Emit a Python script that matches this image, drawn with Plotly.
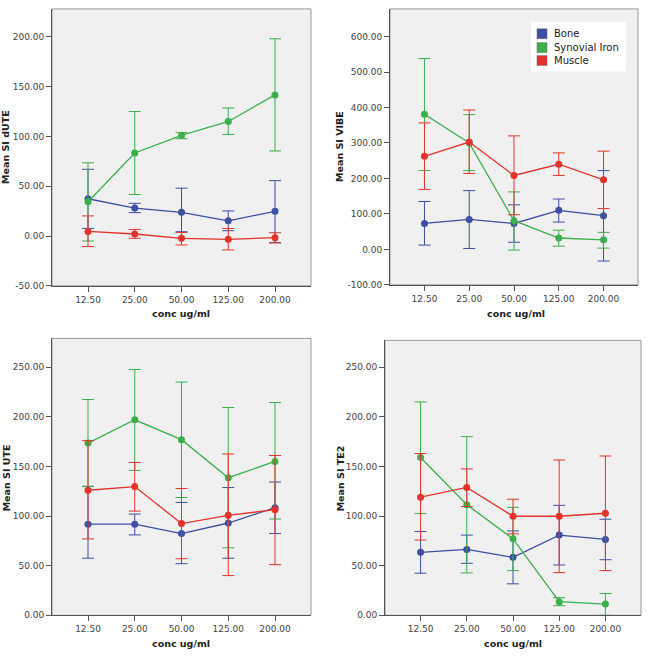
import plotly.graph_objects as go

conc = ["12.50", "25.00", "50.00", "125.00", "200.00"]
series_names = ["Bone", "Synovial Iron", "Muscle"]
colors = {"Bone": "#3b4fa3", "Synovial Iron": "#3bb04a", "Muscle": "#e3332c"}

# Panel 1: Mean SI dUTE
dute_mean = {"Bone": [37.4, 28, 23.8, 15.2, 24.8],
             "Synovial Iron": [34.4, 83.4, 101, 115, 141.7],
             "Muscle": [4.6, 2, -2.3, -3.3, -1.7]}
dute_hi = {"Bone": [67, 32.8, 48, 25.2, 55.6],
           "Synovial Iron": [73.5, 125, 104, 128.5, 198],
           "Muscle": [20.2, 6.6, 3.6, 7.6, 3.3]}
dute_lo = {"Bone": [7.6, 23.5, 4.3, 5.3, -6.6],
           "Synovial Iron": [-5, 41.7, 97.7, 102, 85.4],
           "Muscle": [-10.6, -2.3, -9, -14, -7]}

# Panel 2: Mean SI VIBE
vibe_mean = {"Bone": [73, 84.5, 73, 110, 95],
             "Synovial Iron": [381, 300, 81, 32, 27],
             "Muscle": [262.5, 302.6, 208.5, 240, 196]}
vibe_hi = {"Bone": [135, 165.6, 125.5, 142, 222],
           "Synovial Iron": [538, 380, 162, 54, 48],
           "Muscle": [356.7, 393, 320, 272, 277]}
vibe_lo = {"Bone": [12, 2.5, 20, 77, -33],
           "Synovial Iron": [222.5, 222, -2, 9, 3.5],
           "Muscle": [169, 214, 97.6, 208.5, 115]}

# Panel 3: Mean SI UTE
ute_mean = {"Bone": [91.8, 91.8, 82.4, 93, 108.4],
            "Synovial Iron": [173.5, 197, 177, 138.6, 155],
            "Muscle": [126, 129.7, 92.4, 100.7, 106.4]}
ute_hi = {"Bone": [130, 102, 113.7, 128.7, 134.3],
          "Synovial Iron": [217.4, 247.7, 235, 209.4, 214.4],
          "Muscle": [176, 154, 127.7, 162.6, 161]}
ute_lo = {"Bone": [57.5, 81, 52, 57.5, 82.4],
          "Synovial Iron": [129.7, 146, 118.7, 68, 97],
          "Muscle": [77, 105, 57, 40, 51]}

# Panel 4: Mean SI TE2
te2_mean = {"Bone": [63.4, 66.4, 58.4, 80.8, 76.4],
            "Synovial Iron": [159, 111.5, 77, 13.7, 11.3],
            "Muscle": [119, 128.8, 99.8, 99.8, 102.8]}
te2_hi = {"Bone": [84.4, 80.8, 85, 110.8, 96.8],
          "Synovial Iron": [215, 180, 108.8, 17.7, 22],
          "Muscle": [163, 147.5, 117, 156.5, 160.5]}
te2_lo = {"Bone": [42.4, 52.4, 31.7, 50.7, 56],
          "Synovial Iron": [102.5, 42.7, 45, 9.7, 0],
          "Muscle": [75.8, 109.5, 82, 43, 45]}

panels = [
    dict(mean=dute_mean, hi=dute_hi, lo=dute_lo, title="Mean SI dUTE",
         yrange=[-50, 228], ticks=[-50, 0, 50, 100, 150, 200],
         xdom=[52, 311], ydom=[9, 288], ytitle=(6, 148), xtitle=(181, 316)),
    dict(mean=vibe_mean, hi=vibe_hi, lo=vibe_lo, title="Mean SI VIBE",
         yrange=[-100, 678], ticks=[-100, 0, 100, 200, 300, 400, 500, 600],
         xdom=[390, 638], ydom=[9, 287], ytitle=(340, 148), xtitle=(516, 316)),
    dict(mean=ute_mean, hi=ute_hi, lo=ute_lo, title="Mean SI UTE",
         yrange=[0, 279], ticks=[0, 50, 100, 150, 200, 250],
         xdom=[52, 311], ydom=[341, 620], ytitle=(6, 482), xtitle=(181, 648)),
    dict(mean=te2_mean, hi=te2_hi, lo=te2_lo, title="Mean SI TE2",
         yrange=[0, 277], ticks=[0, 50, 100, 150, 200, 250],
         xdom=[385, 641], ydom=[343, 620], ytitle=(340, 482), xtitle=(513, 648)),
]

W, H = 652, 658
FONT = "DejaVu Sans"
fig = go.Figure()
annotations = []
shapes = []

for i, p in enumerate(panels):
    n = i + 1
    xa = "x" if n == 1 else f"x{n}"
    ya = "y" if n == 1 else f"y{n}"
    for s in series_names:
        m = p["mean"][s]
        plus = [h - v for h, v in zip(p["hi"][s], m)]
        minus = [v - l for v, l in zip(m, p["lo"][s])]
        fig.add_trace(go.Scatter(
            x=conc, y=m, xaxis=xa, yaxis=ya, mode="lines+markers",
            line=dict(color=colors[s], width=1.3),
            marker=dict(color=colors[s], size=7),
            error_y=dict(type="data", array=plus, arrayminus=minus,
                         color=colors[s], thickness=1, width=6),
            showlegend=False, name=s))
    xk = "xaxis" if n == 1 else f"xaxis{n}"
    yk = "yaxis" if n == 1 else f"yaxis{n}"
    fig.layout[xk] = dict(
        domain=[p["xdom"][0] / W, p["xdom"][1] / W], anchor=ya, type="category",
        categoryorder="array", categoryarray=conc, range=[-0.77, 4.77],
        showline=True, linecolor="#555", linewidth=1, ticks="outside",
        ticklen=5, tickcolor="#555", showgrid=False, zeroline=False,
        tickfont=dict(family=FONT, size=9, color="#444"))
    fig.layout[yk] = dict(
        domain=[1 - p["ydom"][1] / H, 1 - p["ydom"][0] / H], anchor=xa,
        range=p["yrange"], tickvals=p["ticks"],
        ticktext=[f"{t:.2f}" for t in p["ticks"]],
        showline=True, linecolor="#555", linewidth=1, ticks="outside",
        ticklen=5, tickcolor="#555", showgrid=False, zeroline=False,
        tickfont=dict(family=FONT, size=9, color="#444"))
    shapes.append(dict(type="rect", xref="paper", yref="paper",
                       x0=p["xdom"][0] / W, x1=p["xdom"][1] / W,
                       y0=1 - p["ydom"][1] / H, y1=1 - p["ydom"][0] / H,
                       fillcolor="#f0f0f0", line=dict(color="#999", width=1),
                       layer="below"))
    annotations.append(dict(text=f"<b>{p['title']}</b>", xref="paper", yref="paper",
                            x=p["ytitle"][0] / W, y=1 - p["ytitle"][1] / H,
                            xanchor="center", yanchor="middle",
                            textangle=-90, showarrow=False,
                            font=dict(family=FONT, size=9.5, color="#222")))
    annotations.append(dict(text="<b>conc ug/ml</b>", xref="paper", yref="paper",
                            x=p["xtitle"][0] / W, y=1 - p["xtitle"][1] / H,
                            xanchor="center", yanchor="middle",
                            showarrow=False,
                            font=dict(family=FONT, size=9.5, color="#222")))

# manual legend box inside the VIBE panel
LX0, LX1, LY0, LY1 = 531, 626, 22, 72
shapes.append(dict(type="rect", xref="paper", yref="paper",
                   x0=LX0 / W, x1=LX1 / W, y0=1 - LY1 / H, y1=1 - LY0 / H,
                   fillcolor="white", line=dict(width=0), layer="above"))
row_y = [34, 48, 61]
for s, ry in zip(series_names, row_y):
    shapes.append(dict(type="rect", xref="paper", yref="paper",
                       x0=537 / W, x1=547 / W,
                       y0=1 - (ry + 5) / H, y1=1 - (ry - 5) / H,
                       fillcolor=colors[s], line=dict(color="#666", width=0.5),
                       layer="above"))
    annotations.append(dict(text=s, xref="paper", yref="paper",
                            x=552 / W, y=1 - ry / H, xanchor="left",
                            yanchor="middle", showarrow=False,
                            font=dict(family=FONT, size=10, color="#222")))

fig.update_layout(
    width=W, height=H, margin=dict(l=0, r=0, t=0, b=0),
    paper_bgcolor="white", plot_bgcolor="rgba(0,0,0,0)",
    shapes=shapes, annotations=annotations, showlegend=False,
)
fig.write_html("out.html")
